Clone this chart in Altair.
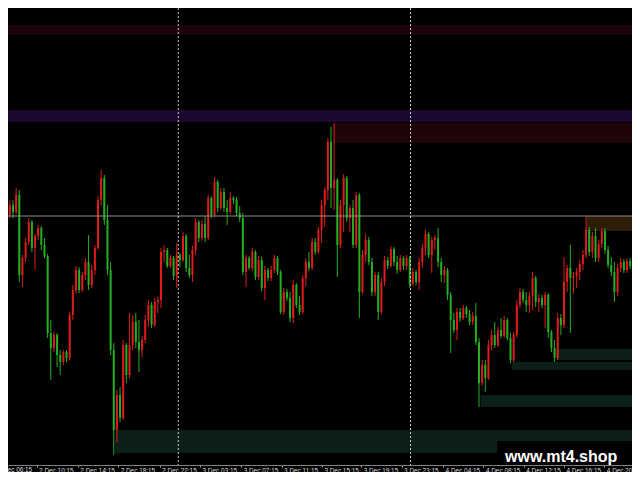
import altair as alt
import pandas as pd

# ---------------- data (price in points) ----------------
first_open = 268
close = [285, 295, 288, 305, 225, 242, 258, 278, 252, 264,
         272, 255, 244, 167, 152, 165, 145, 138, 148, 142,
         185, 210, 230, 210, 225, 238, 215, 230, 252, 300,
         322, 280, 230, 150, 70, 105, 82, 155, 125, 155,
         178, 158, 150, 160, 180, 195, 175, 198, 200, 248,
         250, 234, 242, 224, 245, 240, 264, 232, 225, 250,
         278, 262, 276, 262, 302, 285, 318, 292, 308, 292,
         288, 302, 300, 287, 282, 228, 242, 232, 248, 223,
         240, 212, 230, 222, 230, 242, 228, 188, 208, 202,
         182, 215, 195, 188, 222, 238, 232, 258, 248, 270,
         295, 310, 358, 312, 320, 255, 295, 322, 282, 292,
         255, 305, 208, 245, 260, 238, 208, 225, 188, 218,
         240, 234, 251, 238, 230, 242, 234, 242, 216, 228,
         218, 238, 252, 266, 245, 260, 262, 238, 225, 230,
         205, 180, 170, 188, 182, 192, 186, 178, 184, 158,
         117, 135, 122, 155, 165, 155, 170, 164, 180, 162,
         140, 165, 195, 208, 200, 195, 204, 222, 198, 202,
         195, 205, 168, 152, 142, 182, 175, 218, 232, 222,
         224, 228, 236, 245, 270, 248, 264, 242, 256, 269,
         250, 235, 228, 208, 232, 238, 230, 239, 234, 242]
high = [288, 300, 300, 312, 310, 245, 262, 282, 280, 266,
        275, 274, 262, 246, 180, 168, 167, 150, 150, 150,
        188, 215, 234, 233, 228, 242, 265, 235, 255, 304,
        330, 325, 295, 238, 157, 110, 113, 160, 157, 187,
        185, 187, 180, 164, 185, 200, 198, 202, 203, 252,
        255, 252, 245, 244, 257, 247, 268, 266, 245, 254,
        282, 280, 280, 284, 305, 304, 323, 320, 312, 312,
        300, 308, 304, 303, 294, 287, 245, 244, 252, 250,
        244, 243, 234, 232, 234, 245, 244, 230, 212, 211,
        208, 220, 217, 204, 225, 242, 248, 262, 262, 273,
        300, 313, 362, 373, 377, 322, 300, 326, 324, 295,
        300, 308, 307, 250, 266, 263, 242, 228, 228, 222,
        244, 243, 254, 253, 244, 245, 244, 245, 244, 232,
        230, 242, 256, 270, 268, 263, 265, 272, 242, 234,
        232, 208, 187, 192, 192, 195, 194, 190, 188, 197,
        162, 140, 140, 160, 170, 178, 173, 182, 184, 182,
        167, 168, 200, 212, 211, 208, 208, 228, 224, 206,
        205, 208, 207, 170, 160, 187, 186, 243, 235, 255,
        228, 232, 240, 250, 283, 273, 268, 272, 260, 272,
        272, 254, 243, 238, 236, 242, 241, 242, 242, 245]
low = [264, 282, 282, 286, 218, 213, 238, 255, 248, 230,
       260, 250, 242, 162, 120, 148, 133, 125, 135, 138,
       140, 180, 206, 207, 208, 220, 210, 212, 225, 250,
       295, 275, 225, 145, 45, 58, 78, 80, 117, 122,
       150, 152, 128, 143, 157, 173, 172, 173, 187, 192,
       238, 232, 232, 220, 212, 233, 238, 228, 222, 218,
       245, 258, 259, 258, 260, 282, 283, 288, 290, 288,
       275, 286, 296, 284, 278, 225, 213, 230, 229, 220,
       220, 209, 200, 219, 219, 227, 225, 186, 185, 199,
       178, 177, 192, 185, 186, 214, 229, 230, 245, 246,
       257, 273, 300, 292, 290, 223, 252, 268, 278, 268,
       252, 252, 182, 206, 238, 235, 204, 204, 180, 186,
       214, 231, 232, 234, 226, 228, 230, 230, 212, 214,
       215, 210, 232, 245, 242, 227, 250, 233, 218, 217,
       200, 147, 167, 160, 178, 180, 182, 175, 175, 155,
       93, 114, 108, 120, 150, 152, 153, 162, 162, 160,
       137, 138, 162, 192, 197, 188, 187, 190, 193, 188,
       192, 172, 162, 148, 138, 140, 165, 172, 208, 167,
       206, 212, 220, 230, 242, 244, 242, 238, 238, 252,
       246, 232, 224, 198, 204, 228, 227, 227, 231, 232]

# supply / demand zones (bar index start/end, price top/bottom)
zone_start = [-0.5, -0.5, 103.5, 184, 34.5, 150.5, 160.5, 174.5]
zone_end = [199.5, 199.5, 199.5, 199.5, 199.5, 199.5, 199.5, 199.5]
zone_top = [475, 390, 377, 284, 70, 105, 138, 151]
zone_bottom = [465, 378, 357, 269, 47, 93, 130, 140]
zone_color = ["#1e040a", "#1c0830", "#200508", "#2d1c08",
              "#0c2018", "#0c2018", "#0c2018", "#0c2018"]

level_line = [284]
day_separators = [54.5, 128.25]

tick_idx = [-3.5, 9.5, 22.6, 35.4, 48.6, 61.4, 74.5, 87.3, 100.1,
            112.6, 125.4, 138.6, 151.4, 164.2, 177.0, 189.8]
tick_labels = ["2 Dec 06:15", "2 Dec 10:15", "2 Dec 14:15", "2 Dec 18:15",
               "2 Dec 22:15", "3 Dec 03:15", "3 Dec 07:15", "3 Dec 11:15",
               "3 Dec 15:15", "3 Dec 19:15", "3 Dec 23:15", "4 Dec 04:15",
               "4 Dec 08:15", "4 Dec 12:15", "4 Dec 16:15", "4 Dec 20:15"]

RED = "#e01b1b"
GREEN = "#22b022"
LABEL_COLOR = "#dcdcdc"

# visible window of the MT4 chart
X_MIN, X_MAX = 2, 197
P_MIN, P_MAX = 35, 492
W, H, BOTTOM = 624, 457, 7
FONT_SIZE = 6.4

# ---------------- tables ----------------
n = len(close)
opens = [first_open] + close[:-1]
candles = pd.DataFrame({
    "bar": list(range(n)), "open": opens, "close": close,
    "high": high, "low": low,
    "dir": ["up" if c >= o else "down" for o, c in zip(opens, close)],
})
zones = pd.DataFrame({"x0": zone_start, "x1": zone_end, "top": zone_top,
                      "bottom": zone_bottom, "col": zone_color})
levels = pd.DataFrame({"price": level_line})
seps = pd.DataFrame({"bar": day_separators})
ticks_df = pd.DataFrame({"bar": tick_idx, "label": tick_labels})
edge_ticks = ticks_df[ticks_df["bar"] < X_MIN]
one = pd.DataFrame({"k": [0]})

label_expr = ("[" + ",".join("'%s'" % l for l in tick_labels) + "][indexof(["
              + ",".join(str(v) for v in tick_idx) + "], datum.value)]")

xs = alt.Scale(domain=[X_MIN, X_MAX], nice=False, zero=False)
ys = alt.Scale(domain=[P_MIN, P_MAX], nice=False, zero=False)
xax = alt.Axis(values=tick_idx, labelExpr=label_expr, title=None, grid=False,
               labelAlign="left", labelBaseline="top", labelPadding=0,
               labelOffset=2, tickSize=2, labelFontSize=FONT_SIZE,
               labelFont="Liberation Sans", labelColor=LABEL_COLOR,
               domainColor="#808080", tickColor="#a0a0a0",
               labelOverlap=False, labelFlush=False, labelBound=False)
dir_color = alt.Color("dir:N", scale=alt.Scale(domain=["up", "down"], range=[RED, GREEN]),
                      legend=None)

zone_layer = alt.Chart(zones).mark_rect(clip=True).encode(
    x=alt.X("x0:Q", scale=xs, axis=xax), x2="x1:Q",
    y=alt.Y("top:Q", scale=ys, axis=None), y2="bottom:Q",
    color=alt.Color("col:N", scale=None),
)

wicks = alt.Chart(candles).mark_rule(strokeWidth=1, clip=True).encode(
    x=alt.X("bar:Q", scale=xs, axis=xax),
    y=alt.Y("low:Q", scale=ys, axis=None), y2="high:Q",
    color=dir_color,
)
bodies = alt.Chart(candles).mark_bar(size=2, clip=True).encode(
    x=alt.X("bar:Q", scale=xs, axis=xax),
    y=alt.Y("open:Q", scale=ys, axis=None), y2="close:Q",
    color=dir_color,
)

level_layer = alt.Chart(levels).mark_rule(color="#8c8c8c", strokeWidth=1).encode(
    y=alt.Y("price:Q", scale=ys, axis=None),
)
sep_layer = alt.Chart(seps).mark_rule(color="#c8c8c8", strokeWidth=1,
                                      strokeDash=[2, 2]).encode(
    x=alt.X("bar:Q", scale=xs, axis=xax),
)
# label of the tick lying just left of the visible window (partly cut, as in MT4)
edge_label = alt.Chart(edge_ticks).mark_text(
    align="left", baseline="top", dx=2, fontSize=FONT_SIZE,
    font="Liberation Sans", color=LABEL_COLOR,
).encode(x=alt.X("bar:Q", scale=xs, axis=xax), y=alt.value(H + 2),
         text="label:N")
wm_box = alt.Chart(one).mark_rect(color="#000000").encode(
    x=alt.value(489), x2=alt.value(624), y=alt.value(433), y2=alt.value(H),
)
wm_text = alt.Chart(one).mark_text(
    text="www.mt4.shop", align="left", baseline="alphabetic", fontSize=16,
    fontWeight="bold", font="Liberation Sans", color="#ffffff",
).encode(x=alt.value(497), y=alt.value(454))

chart = alt.layer(
    zone_layer, wicks, bodies, level_layer, sep_layer, edge_label,
    wm_box, wm_text
).properties(
    width=W, height=H,
    autosize=alt.AutoSizeParams(type="none"),
    padding={"left": 0, "right": 0, "top": 0, "bottom": BOTTOM},
    background="#000000",
).configure_view(strokeWidth=0)

chart.save("out.html", embed_options={"renderer": "svg", "actions": False})
